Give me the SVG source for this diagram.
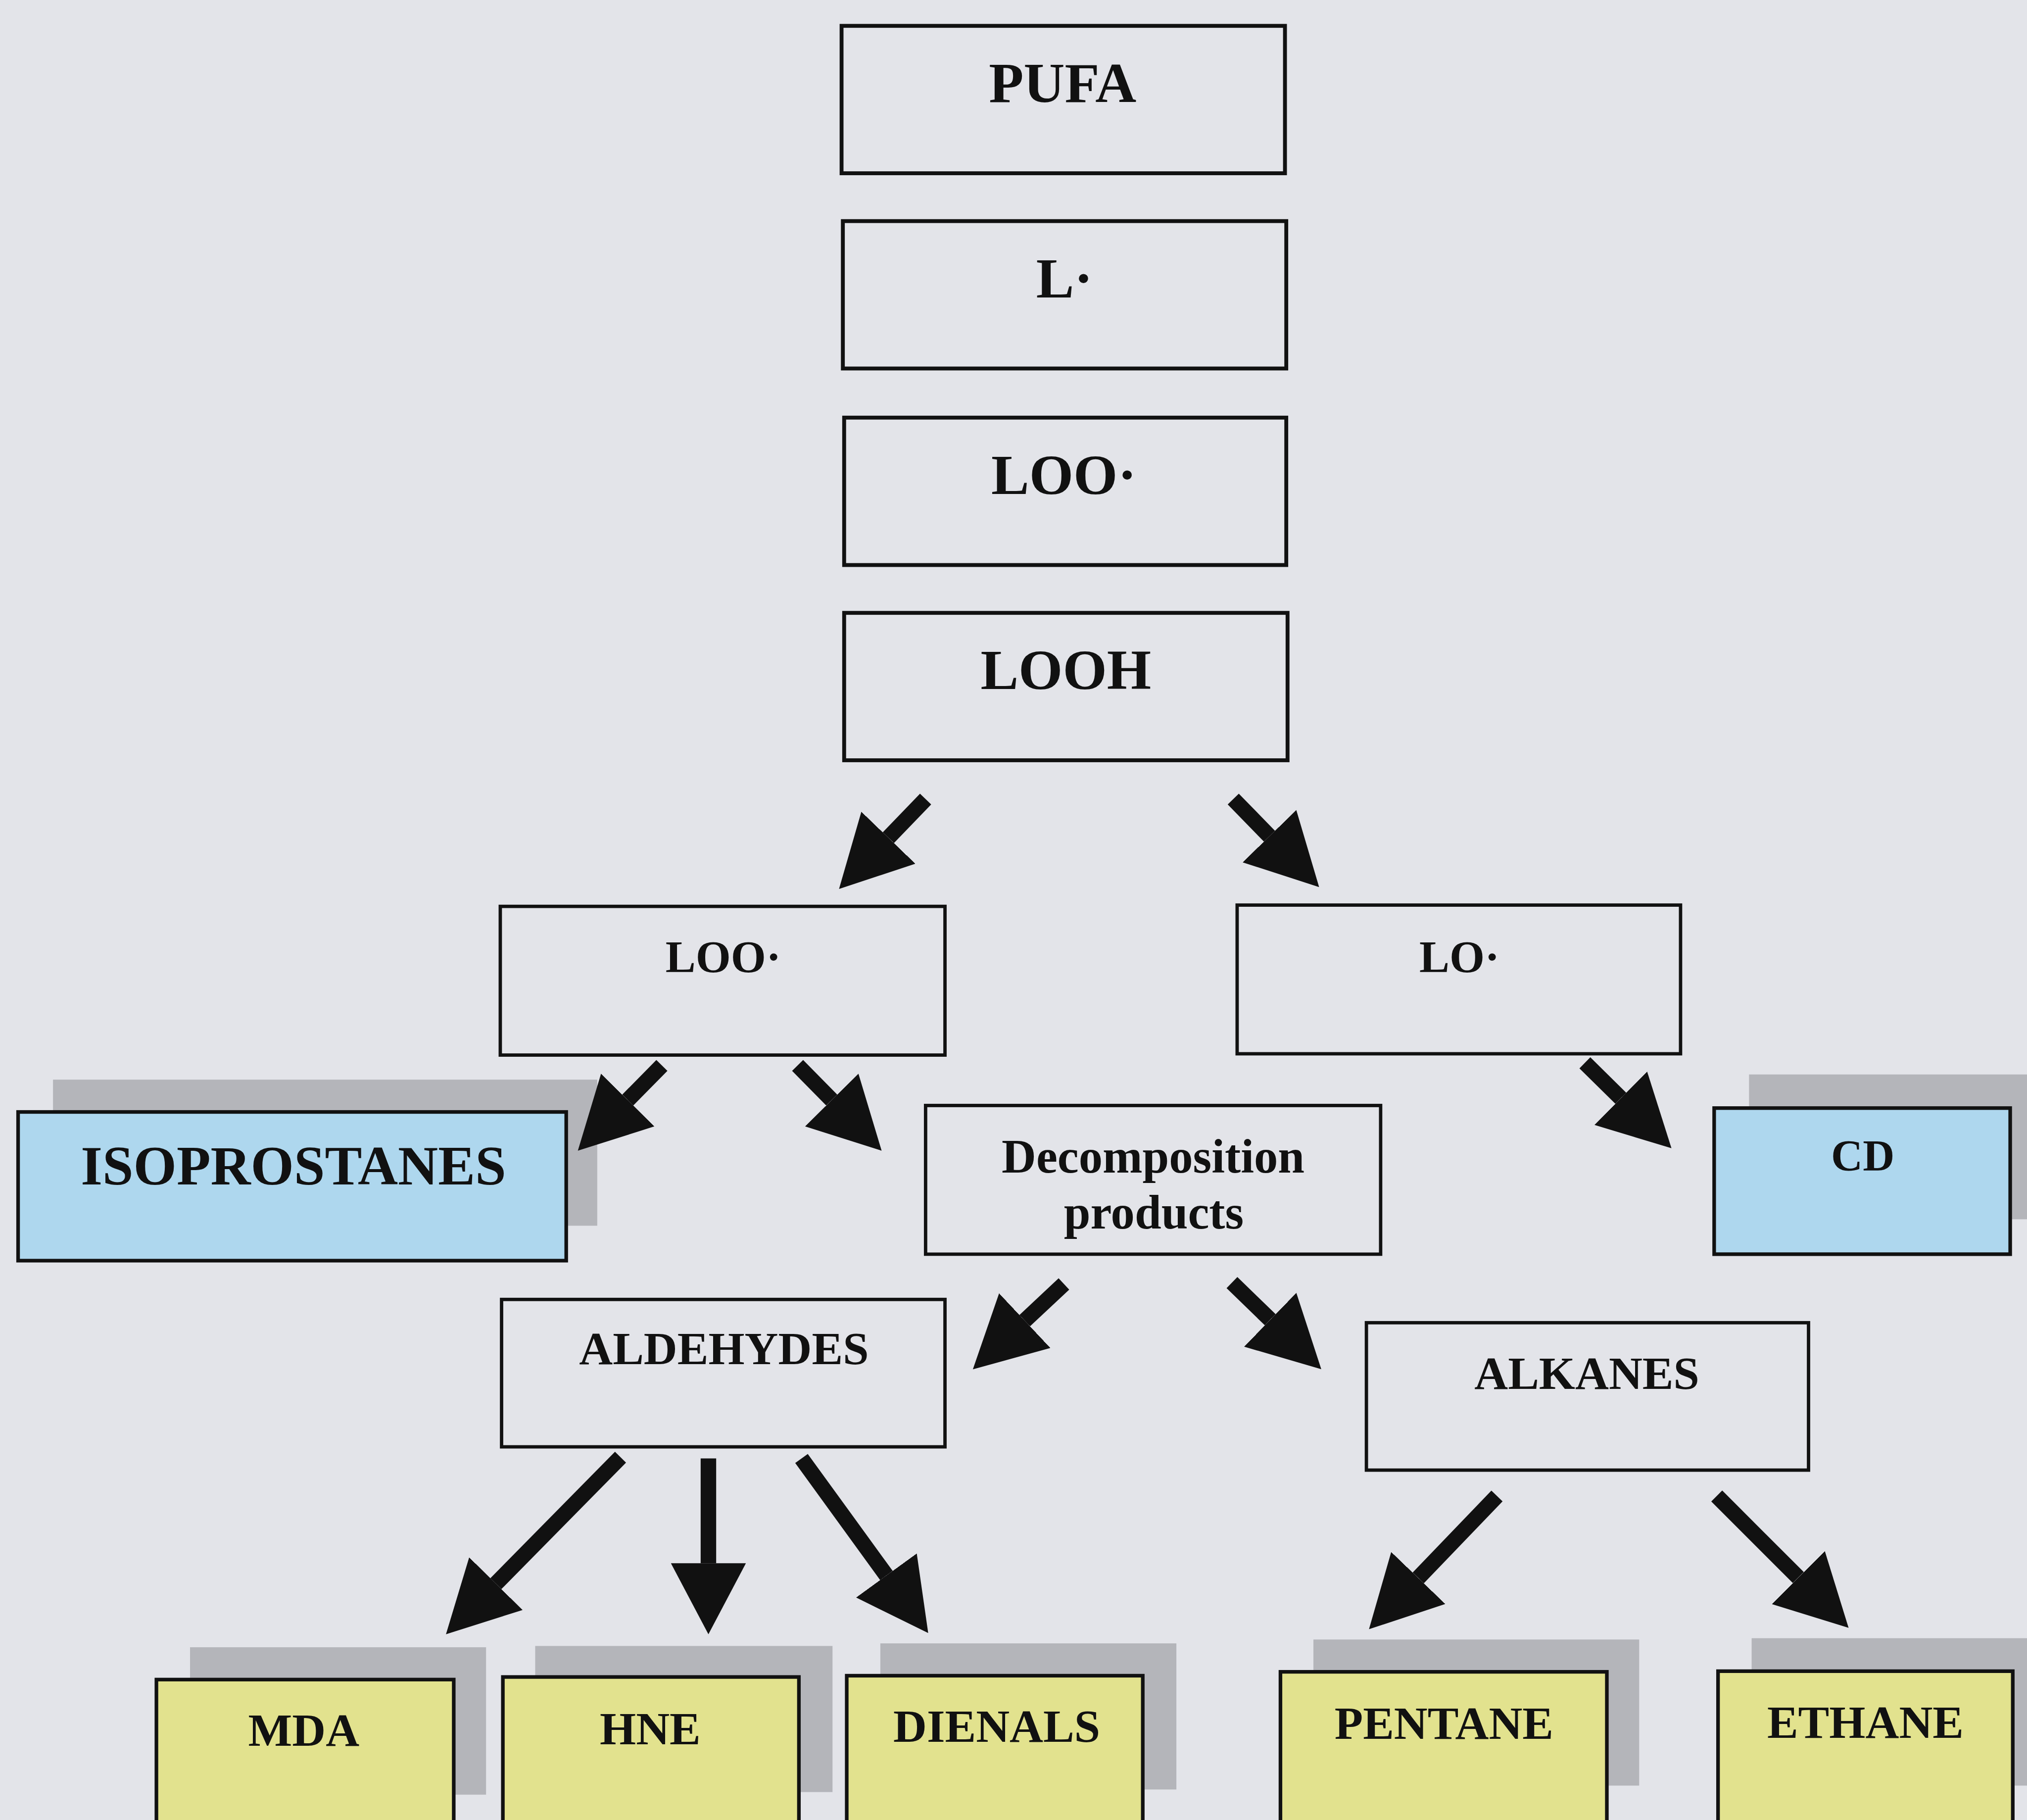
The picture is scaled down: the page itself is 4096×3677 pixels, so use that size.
<svg xmlns="http://www.w3.org/2000/svg" width="4096" height="3677" viewBox="0 0 4096 3677">
<defs>
<style>
.bg{fill:#e3e4e9}
.box{fill:none;stroke:#111;stroke-width:3}
.box2{fill:none;stroke:#111;stroke-width:2.6}
.blue{fill:#aed7ee;stroke:#111;stroke-width:2.8}
.yel{fill:#e2e28e;stroke:#111;stroke-width:2.8}
.sh{fill:#b4b5ba}
.t{font-family:"Liberation Serif","Times New Roman",serif;font-weight:bold;fill:#111;text-anchor:middle}
.big{font-size:44px}
.mid{font-size:36px}
.conn{stroke:#111;stroke-width:12;fill:none;marker-end:url(#ah)}
</style>
<marker id="ah" markerUnits="userSpaceOnUse" viewBox="0 0 55 58" markerWidth="55" markerHeight="58" refX="0" refY="29" orient="auto">
<path d="M0,0 L55,29 L0,58 Z" fill="#111"/>
</marker>
</defs>
<rect class="bg" x="0" y="0" width="4096" height="3677"/>
<g transform="scale(2.61224)">
<g id="node-pufa"><rect class="box" x="651" y="20" width="343" height="114"/><text class="t big" x="822" y="79">PUFA</text></g>
<g id="node-l"><rect class="box" x="652" y="171" width="343" height="114"/><text class="t big" x="823.5" y="230">L·</text></g>
<g id="node-loo1"><rect class="box" x="653" y="323" width="342" height="114"/><text class="t big" x="823" y="382">LOO·</text></g>
<g id="node-looh"><rect class="box" x="653" y="474" width="343" height="114"/><text class="t big" x="824.5" y="533">LOOH</text></g>
<g id="node-loo2"><rect class="box2" x="387" y="701" width="344" height="115"/><text class="t" font-size="35" x="559.5" y="752">LOO·</text></g>
<g id="node-lo"><rect class="box2" x="957" y="700" width="343" height="115"/><text class="t" font-size="35" x="1129" y="752">LO·</text></g>
<g id="node-iso"><rect class="sh" x="41" y="835" width="421" height="113"/><rect class="blue" x="14" y="860" width="424" height="115"/><text class="t" font-size="43" x="227" y="916">ISOPROSTANES</text></g>
<g id="node-decomp"><rect class="box2" x="716" y="855" width="352" height="115"/><text class="t" font-size="37" x="892" y="907">Decomposition</text><text class="t" font-size="37" x="892.5" y="950">products</text></g>
<g id="node-cd"><rect class="sh" x="1353" y="831" width="230" height="112"/><rect class="blue" x="1326" y="857" width="229" height="113"/><text class="t" font-size="34" x="1441" y="905">CD</text></g>
<g id="node-aldehydes"><rect class="box2" x="388" y="1005" width="343" height="114"/><text class="t mid" x="560" y="1055">ALDEHYDES</text></g>
<g id="node-alkanes"><rect class="box2" x="1057" y="1023" width="342" height="114"/><text class="t mid" x="1227.5" y="1074">ALKANES</text></g>
<g id="node-mda"><rect class="sh" x="147" y="1274" width="229" height="114"/><rect class="yel" x="121" y="1299" width="230" height="130"/><text class="t mid" x="235" y="1350">MDA</text></g>
<g id="node-hne"><rect class="sh" x="414" y="1273" width="230" height="113"/><rect class="yel" x="389" y="1297" width="229" height="130"/><text class="t mid" x="503" y="1349">HNE</text></g>
<g id="node-dienals"><rect class="sh" x="681" y="1271" width="229" height="113"/><rect class="yel" x="655" y="1296" width="229" height="130"/><text class="t mid" x="771" y="1347">DIENALS</text></g>
<g id="node-pentane"><rect class="sh" x="1016" y="1268" width="252" height="113"/><rect class="yel" x="990.5" y="1293" width="252.5" height="130"/><text class="t mid" x="1117" y="1345">PENTANE</text></g>
<g id="node-ethane"><rect class="sh" x="1355" y="1267" width="230" height="114"/><rect class="yel" x="1329" y="1292.5" width="228" height="130"/><text class="t mid" x="1443" y="1344">ETHANE</text></g>
<g id="connectors">
<line class="conn" x1="716" y1="618" x2="687.2" y2="647.9"/>
<line class="conn" x1="954" y1="618" x2="982" y2="646.7"/>
<line class="conn" x1="512" y1="824" x2="485.6" y2="850.8"/>
<line class="conn" x1="617" y1="824" x2="643.4" y2="850.8"/>
<line class="conn" x1="1226" y1="822" x2="1253.8" y2="849.4"/>
<line class="conn" x1="823" y1="993" x2="792.7" y2="1021.4"/>
<line class="conn" x1="953" y1="992" x2="982.6" y2="1020.7"/>
<line class="conn" x1="480" y1="1127" x2="383.6" y2="1224.8"/>
<line class="conn" x1="548" y1="1128" x2="548" y2="1209"/>
<line class="conn" x1="620" y1="1128" x2="685.7" y2="1218.5"/>
<line class="conn" x1="1158" y1="1157" x2="1097.1" y2="1220.4"/>
<line class="conn" x1="1328" y1="1157" x2="1391.1" y2="1220.1"/>
</g>
</g>
</svg>
